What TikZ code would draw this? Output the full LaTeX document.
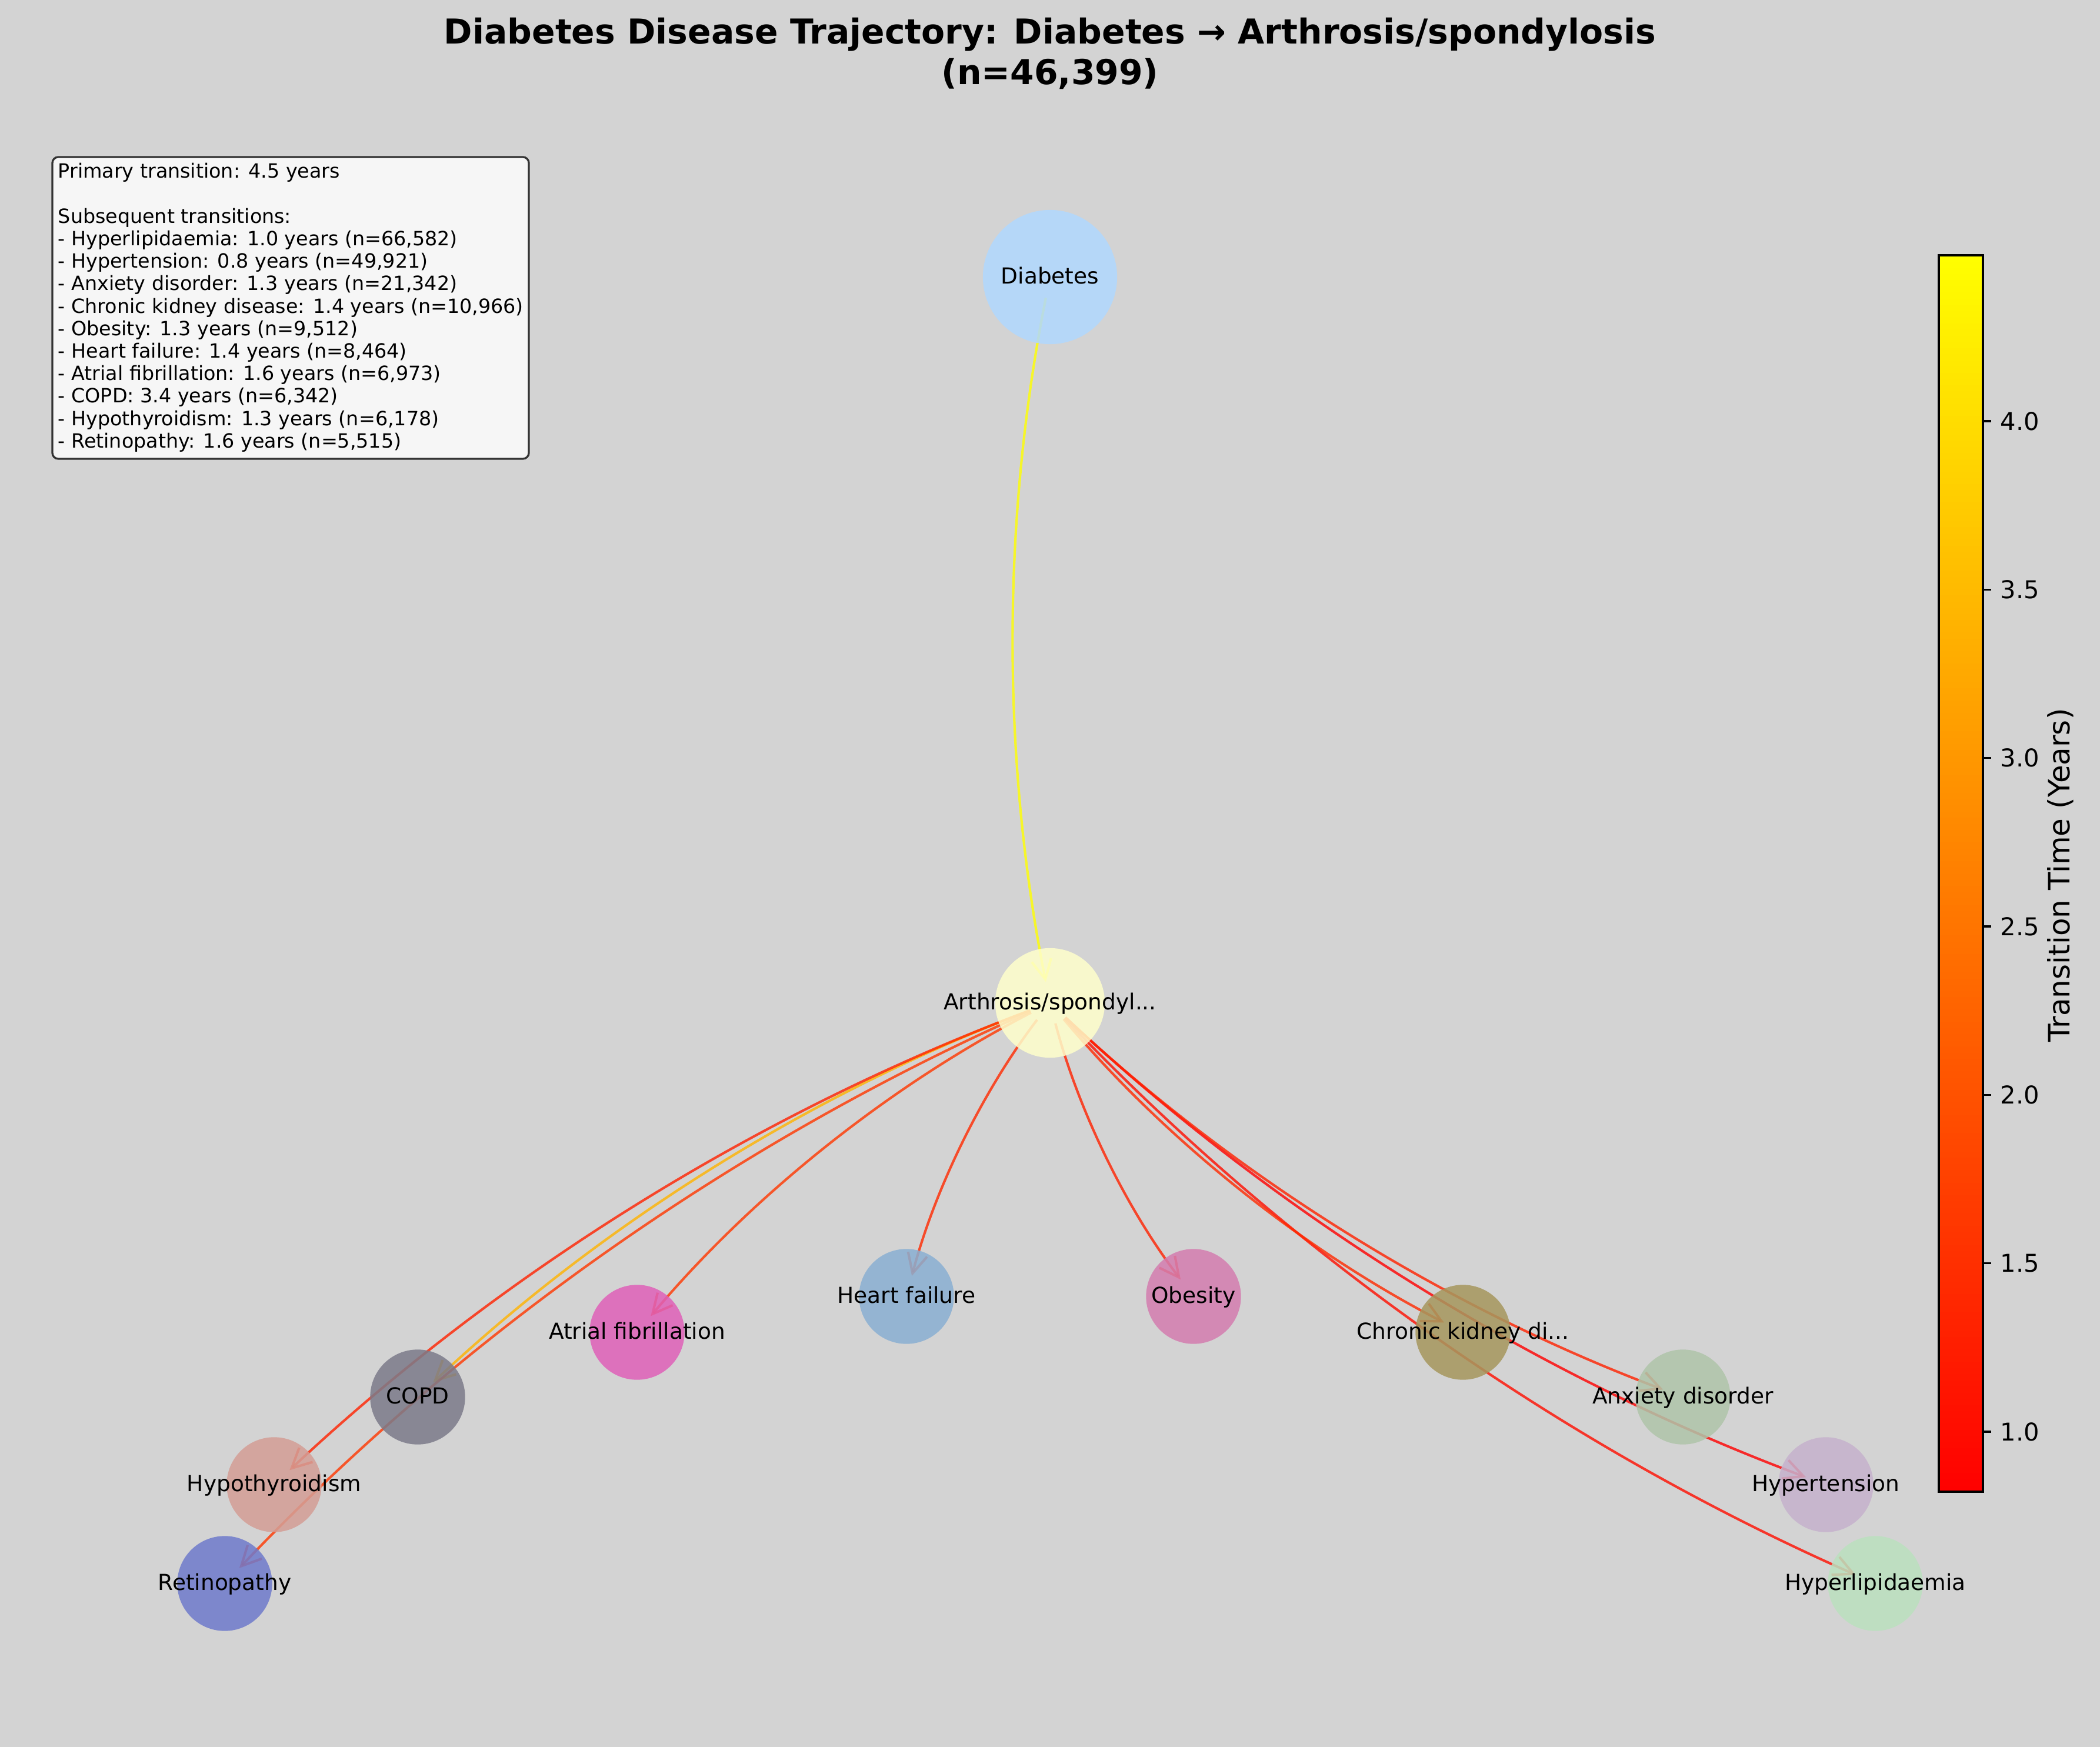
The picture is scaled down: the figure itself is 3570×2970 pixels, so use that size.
\documentclass[tikz,border=0pt]{standalone}
\usepackage{fontspec}
\setmainfont{DejaVu Sans}
\usetikzlibrary{calc,arrows.meta}

\definecolor{bg}{HTML}{D3D3D3}
\definecolor{boxfill}{HTML}{F6F6F6}
\definecolor{boxedge}{HTML}{333333}
\definecolor{cbRed}{RGB}{255,0,0}
\definecolor{cbYellow}{RGB}{255,255,0}
\definecolor{cDiab}{RGB}{176,216,255}
\definecolor{cArth}{RGB}{255,255,203}
\definecolor{cHf}{RGB}{137,175,210}
\definecolor{cObes}{RGB}{212,125,175}
\definecolor{cAf}{RGB}{223,96,184}
\definecolor{cCkd}{RGB}{166,151,93}
\definecolor{cCopd}{RGB}{123,122,137}
\definecolor{cAnx}{RGB}{175,196,169}
\definecolor{cHypo}{RGB}{212,158,149}
\definecolor{cHyper}{RGB}{198,177,205}
\definecolor{cReti}{RGB}{111,122,203}
\definecolor{cLip}{RGB}{187,225,191}
\definecolor{eP}{RGB}{255,255,0}
\definecolor{eLip}{RGB}{255,14,0}
\definecolor{eHyp}{RGB}{255,0,0}
\definecolor{eAnx}{RGB}{255,34,0}
\definecolor{eCkd}{RGB}{255,41,0}
\definecolor{eObe}{RGB}{255,34,0}
\definecolor{eHf}{RGB}{255,41,0}
\definecolor{eAf}{RGB}{255,55,0}
\definecolor{eCopd}{RGB}{255,179,0}
\definecolor{eHypo}{RGB}{255,34,0}
\definecolor{eReti}{RGB}{255,55,0}

\pgfdeclarelayer{bglayer}
\pgfdeclarelayer{edgelayer}
\pgfsetlayers{bglayer,edgelayer,main}

\newcommand{\trajedge}[3]{%
  \coordinate (#1-#2-c) at ($(#1.center)!0.5!(#2.center)!0.2!-90:(#2.center)$);
  \draw[edgeline, draw=#3] (#1.center) .. controls ($(#1.center)!2/3!(#1-#2-c)$) and ($(#2.center)!2/3!(#1-#2-c)$) .. (#2.center);
}

\begin{document}
\begin{tikzpicture}[x=0.24bp,y=-0.24bp,
  dnode/.style={circle, inner sep=0pt, draw=none, fill opacity=0.85},
  bignode/.style={dnode, minimum size=54.77bp},
  midnode/.style={dnode, minimum size=44.72bp},
  smallnode/.style={dnode, minimum size=38.73bp},
  nlabel/.style={font=\fontsize{9bp}{11bp}\selectfont, inner sep=0pt, text height=6.9bp, text depth=1.4bp, text=black},
  edgeline/.style={line width=1bp, draw opacity=0.8, -{Straight Barb[length=8bp,width=8bp]}, shorten <=8.66bp, shorten >=8.66bp},
  tbline/.style={font=\fontsize{8bp}{9.6bp}\selectfont, anchor=base west, inner sep=0pt},
  ticklabel/.style={font=\fontsize{10bp}{12bp}\selectfont, anchor=west, inner sep=0pt},
]
\useasboundingbox (0,0) rectangle (3570,2970);
\begin{pgfonlayer}{bglayer}
\fill[bg] (0,0) rectangle (3570,2970);
\end{pgfonlayer}

% title
\node[anchor=base, font=\fontsize{14bp}{17bp}\selectfont\bfseries, inner sep=0pt] (title1) at (1785,75) {Diabetes Disease Trajectory: Diabetes → Arthrosis/spondylosis};
\node[anchor=base, font=\fontsize{14bp}{17bp}\selectfont\bfseries, inner sep=0pt] (title2) at (1785,144) {(n=46,399)};

% nodes
\node[bignode, fill=cDiab] (diab) at (1785,471) {};
\node[midnode, fill=cArth] (arth) at (1785,1705) {};
\node[smallnode, fill=cHf] (hf) at (1541,2204) {};
\node[smallnode, fill=cObes] (obes) at (2029,2204) {};
\node[smallnode, fill=cAf] (af) at (1083,2265) {};
\node[smallnode, fill=cCkd] (ckd) at (2487,2265) {};
\node[smallnode, fill=cCopd] (copd) at (710,2375) {};
\node[smallnode, fill=cAnx] (anx) at (2861,2375) {};
\node[smallnode, fill=cHypo] (hypo) at (466,2524) {};
\node[smallnode, fill=cHyper] (hyper) at (3104,2524) {};
\node[smallnode, fill=cReti] (reti) at (382,2692) {};
\node[smallnode, fill=cLip] (lipid) at (3188,2692) {};

% labels
\node[nlabel] (diabL) at (diab) {Diabetes};
\node[nlabel] (arthL) at (arth) {Arthrosis/spondyl...};
\node[nlabel] (hfL) at (hf) {Heart failure};
\node[nlabel] (obesL) at (obes) {Obesity};
\node[nlabel] (afL) at (af) {Atrial fibrillation};
\node[nlabel] (ckdL) at (ckd) {Chronic kidney di...};
\node[nlabel] (copdL) at (copd) {COPD};
\node[nlabel] (anxL) at (anx) {Anxiety disorder};
\node[nlabel] (hypoL) at (hypo) {Hypothyroidism};
\node[nlabel] (hyperL) at (hyper) {Hypertension};
\node[nlabel] (retiL) at (reti) {Retinopathy};
\node[nlabel] (lipidL) at (lipid) {Hyperlipidaemia};

% edges
\begin{pgfonlayer}{edgelayer}
\trajedge{diab}{arth}{eP}
\trajedge{arth}{lipid}{eLip}
\trajedge{arth}{hyper}{eHyp}
\trajedge{arth}{anx}{eAnx}
\trajedge{arth}{ckd}{eCkd}
\trajedge{arth}{obes}{eObe}
\trajedge{arth}{hf}{eHf}
\trajedge{arth}{af}{eAf}
\trajedge{arth}{copd}{eCopd}
\trajedge{arth}{hypo}{eHypo}
\trajedge{arth}{reti}{eReti}
\end{pgfonlayer}

% info box
\draw[rounded corners=2.4bp, fill=boxfill, draw=boxedge, line width=0.8bp] (89,267) rectangle (899,780);
\foreach \i/\t in {0/{Primary transition: 4.5 years},
  2/{Subsequent transitions:},
  3/{- Hyperlipidaemia: 1.0 years (n=66,582)},
  4/{- Hypertension: 0.8 years (n=49,921)},
  5/{- Anxiety disorder: 1.3 years (n=21,342)},
  6/{- Chronic kidney disease: 1.4 years (n=10,966)},
  7/{- Obesity: 1.3 years (n=9,512)},
  8/{- Heart failure: 1.4 years (n=8,464)},
  9/{- Atrial fibrillation: 1.6 years (n=6,973)},
  10/{- COPD: 3.4 years (n=6,342)},
  11/{- Hypothyroidism: 1.3 years (n=6,178)},
  12/{- Retinopathy: 1.6 years (n=5,515)}}
  \node[tbline] (tb\i) at (98,{303+38.2*\i}) {\t};

% colorbar (autumn colormap, linear red -> yellow in RGB)
\foreach \k in {0,...,199} {
  \pgfmathsetmacro{\ylo}{2536-\k*10.51}
  \pgfmathsetmacro{\yhi}{2536-(\k+1)*10.51-0.6}
  \pgfmathsetmacro{\pct}{(\k+0.5)/2}
  \fill[cbYellow!\pct!cbRed] (3296,\ylo) rectangle (3371,\yhi);
}
\draw[black, line width=0.8bp] (3296,434) rectangle (3371,2536);
\foreach \v/\yy in {1.0/2434, 1.5/2147.6, 2.0/1861.3, 2.5/1574.9, 3.0/1288.6, 3.5/1002.2, 4.0/715.9} {
  \draw[black, line width=0.8bp] (3371,\yy) -- (3385,\yy);
  \node[ticklabel] (tick\v) at (3400,\yy) {\v};
}
\node[rotate=90, font=\fontsize{12bp}{14bp}\selectfont, inner sep=0pt] (cblabel) at (3503,1488) {Transition Time (Years)};
\end{tikzpicture}
\end{document}
